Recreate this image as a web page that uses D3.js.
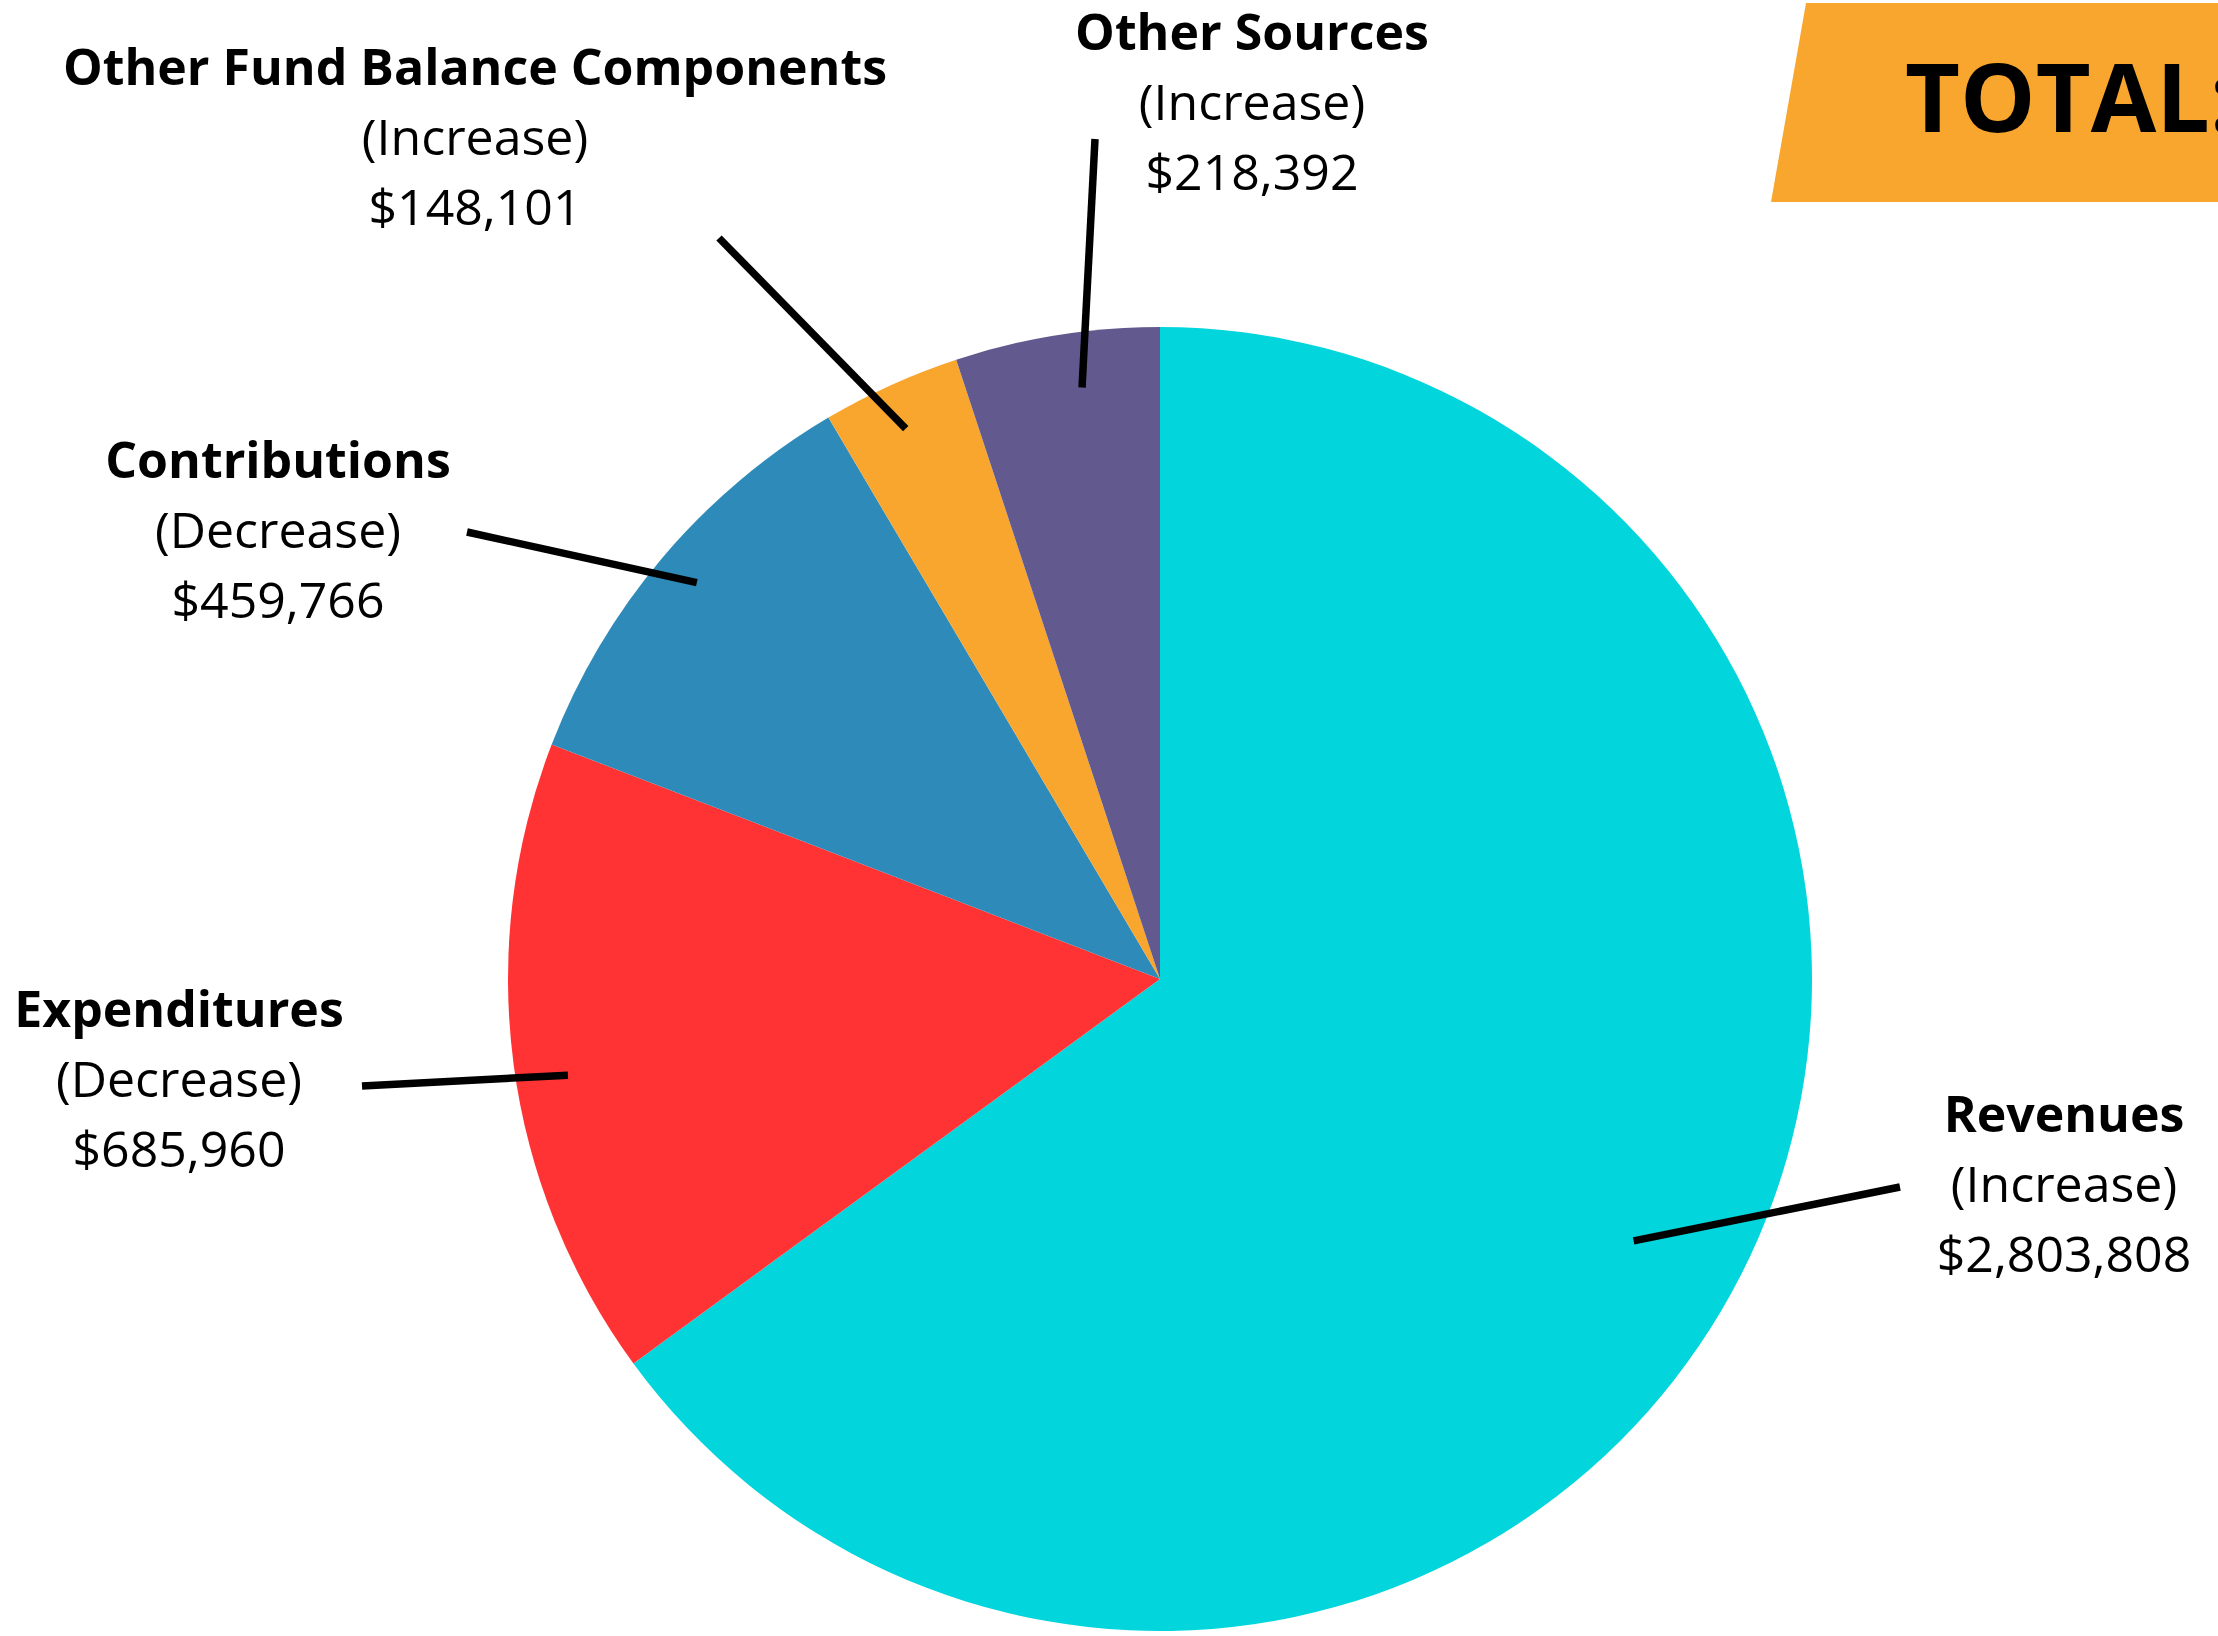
<!DOCTYPE html>
<html>
<head>
<meta charset="utf-8">
<script src="https://cdn.jsdelivr.net/npm/d3@7"></script>
<style>
  html, body { margin: 0; padding: 0; background: #ffffff; }
  svg { display: block; }
</style>
</head>
<body>
<script>
// ---- data ----
const categories = ["Revenues", "Expenditures", "Contributions", "Other Fund Balance Components", "Other Sources"];
const values = [2803808, 685960, 459766, 148101, 218392];
const changes = ["Increase", "Decrease", "Decrease", "Increase", "Increase"];
const colors = ["#02D6DC", "#FF3333", "#2E8AB8", "#F9A62E", "#625A8F"];
const totalLabel = "TOTAL:";

// ---- layout (annotation placement) ----
const W = 2218, H = 1636;
const cx = 1160, cy = 979, R = 652;
// x,y: label centre / first baseline; lx,ly: outer end of leader; inner: radius fraction; dA: angle shift (deg) from slice middle
const labelPos = [
  { x: 2064, y: 1132, lx: 1900, ly: 1187, inner: 0.83, dA: 2.0 },
  { x: 179,  y: 1027, lx: 362,  ly: 1086, inner: 0.92, dA: -1.7 },
  { x: 278,  y: 478,  lx: 467,  ly: 532,  inner: 0.935, dA: 0.3 },
  { x: 475,  y: 85,   lx: 719,  ly: 238,  inner: 0.93, dA: -0.4 },
  { x: 1252, y: 50,   lx: 1095, ly: 139,  inner: 0.915, dA: 1.6 }
];
const lineGap = 70;
const fontFamily = "'Open Sans', 'Noto Sans', sans-serif";

const svg = d3.select("body").append("svg")
  .attr("width", W).attr("height", H)
  .attr("viewBox", `0 0 ${W} ${H}`);

svg.append("rect").attr("width", W).attr("height", H).attr("fill", "#ffffff");

// TOTAL banner
svg.append("path")
  .attr("d", `M1806,3 L${W},3 L${W},202 L1771,202 Z`)
  .attr("fill", "#F9A62E");
svg.append("text")
  .attr("x", 1905).attr("y", 132)
  .attr("font-family", fontFamily)
  .attr("font-weight", 700)
  .attr("font-size", 95)
  .attr("fill", "#000")
  .text(totalLabel);

const data = categories.map((c, i) => ({ name: c, value: values[i], change: changes[i], color: colors[i], pos: labelPos[i] }));

const pie = d3.pie().sort(null).value(d => d.value).startAngle(0).endAngle(2 * Math.PI);
const arcs = pie(data);
const arc = d3.arc().innerRadius(0).outerRadius(R);

const g = svg.append("g").attr("transform", `translate(${cx},${cy})`);
g.selectAll("path.slice").data(arcs).enter().append("path")
  .attr("class", "slice")
  .attr("d", arc)
  .attr("fill", d => d.data.color);

// leader lines
arcs.forEach(a => {
  const r = R * a.data.pos.inner;
  const ang = (a.startAngle + a.endAngle) / 2 + a.data.pos.dA * Math.PI / 180;
  const ix = r * Math.sin(ang), iy = -r * Math.cos(ang);
  svg.append("line")
    .attr("x1", a.data.pos.lx).attr("y1", a.data.pos.ly)
    .attr("x2", cx + ix).attr("y2", cy + iy)
    .attr("stroke", "#000")
    .attr("stroke-width", 7.5);
});

// labels
const fmt = d3.format(",");
data.forEach(d => {
  const t = svg.append("text")
    .attr("text-anchor", "middle")
    .attr("font-family", fontFamily)
    .attr("font-size", 50)
    .attr("fill", "#000");
  t.append("tspan").attr("x", d.pos.x).attr("y", d.pos.y).attr("font-weight", 700).text(d.name);
  t.append("tspan").attr("x", d.pos.x).attr("y", d.pos.y + lineGap).attr("font-weight", 400).text(`(${d.change})`);
  t.append("tspan").attr("x", d.pos.x).attr("y", d.pos.y + 2 * lineGap).attr("font-weight", 400).text("$" + fmt(d.value));
});
</script>
</body>
</html>
